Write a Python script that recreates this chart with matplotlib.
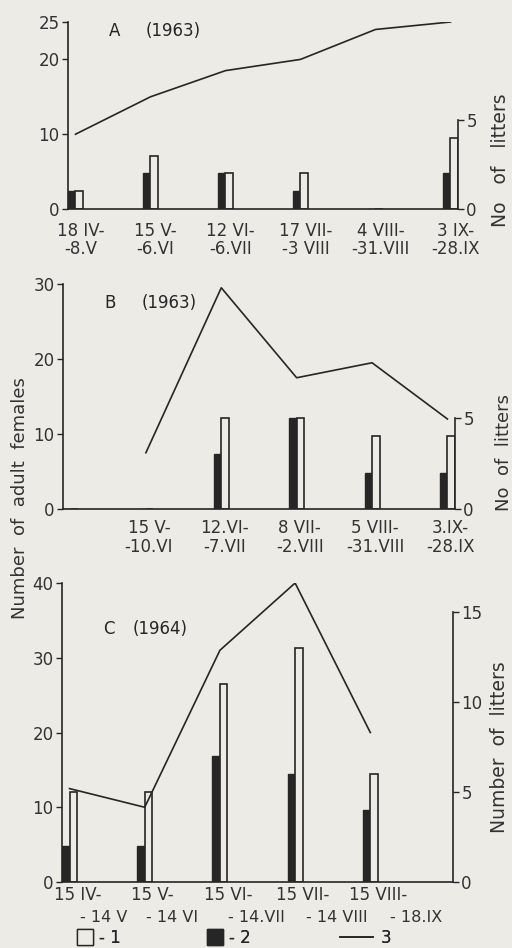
import numpy as np
import matplotlib
matplotlib.use("Agg")
import matplotlib.pyplot as plt
from matplotlib.lines import Line2D
from matplotlib.transforms import ScaledTranslation

# panel A (1963)
a_periods = ["18 IV-\n-8.V", "15 V-\n-6.VI", "12 VI-\n-6.VII", "17 VII-\n-3 VIII", "4 VIII-\n-31.VIII", "3 IX-\n-28.IX"]
a_litters_1 = [1, 3, 2, 2, 0, 4]
a_litters_2 = [1, 2, 2, 1, 0, 2]
a_females = [10, 15, 18.5, 20, 24, 25]

# panel B (1963)
b_periods = ["", "15 V-\n-10.VI", "12.VI-\n-7.VII", "8 VII-\n-2.VIII", "5 VIII-\n-31.VIII", "3.IX-\n-28.IX"]
b_litters_1 = [0, 0, 5, 5, 4, 4]
b_litters_2 = [0, 0, 3, 5, 2, 2]
b_females = [np.nan, 7.5, 29.5, 17.5, 19.5, 12]

# panel C (1964)
c_start = ["15 IV-", "15 V-", "15 VI-", "15 VII-", "15 VIII-"]
c_end = ["- 14 V", "- 14 VI", "- 14.VII", "- 14 VIII", "- 18.IX"]
c_litters_1 = [5, 5, 11, 13, 6]
c_litters_2 = [2, 2, 7, 6, 4]
c_females = [12.5, 10, 31, 40, 20]

legend_labels = ["- 1", "- 2", "3"]

bg = "#ecebe5"
ink = "#262626"
plt.rcParams["font.family"] = ["DejaVu Sans"]
plt.rcParams["text.color"] = ink

fig = plt.figure(figsize=(5.12, 9.48), dpi=100, facecolor=bg)


def panel(rect, white, black, females, ylim_l, ylim_r, lticks, rticks, rtop, title, year, ty):
    ax = fig.add_axes(rect)
    ax2 = ax.twinx()
    ax.set_zorder(ax2.get_zorder() + 1)
    ax.patch.set_visible(False)
    ax2.patch.set_visible(False)

    x = np.arange(len(white))
    w = 0.1
    ax2.bar(x - w / 2, black, w, color=ink, edgecolor=ink, linewidth=1.0)
    ax2.bar(x + w / 2, white, w, color=bg, edgecolor=ink, linewidth=1.2)
    ax.plot(x, females, color=ink, lw=1.2)

    ax.set_xlim(-0.1, 5.1)
    ax.set_ylim(*ylim_l)
    ax2.set_ylim(*ylim_r)
    ax.set_yticks(lticks)
    ax2.set_yticks(rticks)

    for a in (ax, ax2):
        a.spines["top"].set_visible(False)
        for s in a.spines.values():
            s.set_color(ink)
            s.set_linewidth(1.2)
        a.tick_params(axis="y", length=4, width=1.0, color=ink, labelsize=12,
                      labelcolor="#333333", pad=2)
    ax.spines["right"].set_visible(False)
    ax2.spines["left"].set_visible(False)
    ax2.spines["bottom"].set_visible(False)
    ax2.spines["right"].set_bounds(0, rtop)

    ax.text(0.12, ty, title, transform=ax.transAxes, fontsize=12, va="center", ha="center")
    ax.text(0.27, ty, year, transform=ax.transAxes, fontsize=12, va="center", ha="center")
    return ax, ax2


def shift_labels(ax, px):
    for lab in ax.get_xticklabels():
        lab.set_transform(lab.get_transform() + ScaledTranslation(px / 100, 0, fig.dpi_scale_trans))


# A
ax, ax2 = panel([0.1328, 0.7795, 0.7617, 0.1973], a_litters_1, a_litters_2, a_females,
                (0, 25), (0, 10.5), [0, 10, 20, 25], [0, 5], 5, "A", "(1963)", 0.952)
ax.set_xticks(np.arange(len(a_periods)))
ax.set_xticklabels(a_periods, fontsize=12, linespacing=1.0, color="#333333")
ax.tick_params(axis="x", length=0, pad=9)
shift_labels(ax, 5)
ax.text(1.11, 0.26, "No   of   litters", transform=ax.transAxes, rotation=90,
        fontsize=13.5, ha="center", va="center", color="#333333")

# B
ax, ax2 = panel([0.1230, 0.4631, 0.7656, 0.2373], b_litters_1, b_litters_2, b_females,
                (0, 30), (0, 12.36), [0, 10, 20, 30], [0, 5], 5, "B", "(1963)", 0.916)
ax.set_xticks(np.arange(len(b_periods)))
ax.set_xticklabels(b_periods, fontsize=12, linespacing=1.1, color="#333333")
ax.tick_params(axis="x", length=0, pad=7)
shift_labels(ax, 3)
ax.text(1.125, 0.25, "No  of  litters", transform=ax.transAxes, rotation=90,
        fontsize=13, ha="center", va="center", color="#333333")

# C
ax, ax2 = panel([0.1211, 0.0696, 0.7637, 0.3154], c_litters_1, c_litters_2, c_females,
                (0, 40), (0, 16.6), [0, 10, 20, 30, 40], [0, 5, 10, 15], 15, "C", "(1964)", 0.846)
ax.texts[1].set_position((0.25, 0.846))
ax.set_xticks(np.arange(len(c_start)))
ax.set_xticks([0.45, 1.37, 2.48, 3.56, 4.61], minor=True)
ax.set_xticklabels(c_start, fontsize=12, color="#333333")
ax.set_xticklabels(c_end, minor=True, fontsize=11.5, color="#333333")
ax.tick_params(axis="x", which="major", length=0, pad=3)
ax.tick_params(axis="x", which="minor", length=0, pad=20)
shift_labels(ax, 8)
ax.text(1.12, 0.45, "Number  of  litters", transform=ax.transAxes, rotation=90,
        fontsize=13.5, ha="center", va="center", color="#333333")

fig.text(0.04, 1 - 498 / 948, "Number  of  adult  females", rotation=90, fontsize=13,
         ha="center", va="center", color="#333333")

# legend: three separate entries along the bottom edge
handles = [
    Line2D([], [], marker="s", markersize=11, markerfacecolor=bg, markeredgecolor=ink,
           linestyle="none"),
    Line2D([], [], marker="s", markersize=11, markerfacecolor=ink, markeredgecolor=ink,
           linestyle="none"),
    Line2D([], [], color=ink, lw=1.2),
]
anchors = [78 / 512, 208 / 512, 340 / 512]
hlens = [0.8, 0.8, 2.0]
for h, lab, xa, hl in zip(handles, legend_labels, anchors, hlens):
    leg = fig.legend([h], [lab], loc="lower left", bbox_to_anchor=(xa, 0.001),
                     frameon=False, fontsize=12, handlelength=hl, handletextpad=0.45,
                     borderpad=0.0, borderaxespad=0.0)
    fig.add_artist(leg)

fig.savefig("out.png", dpi=100, facecolor=bg)
